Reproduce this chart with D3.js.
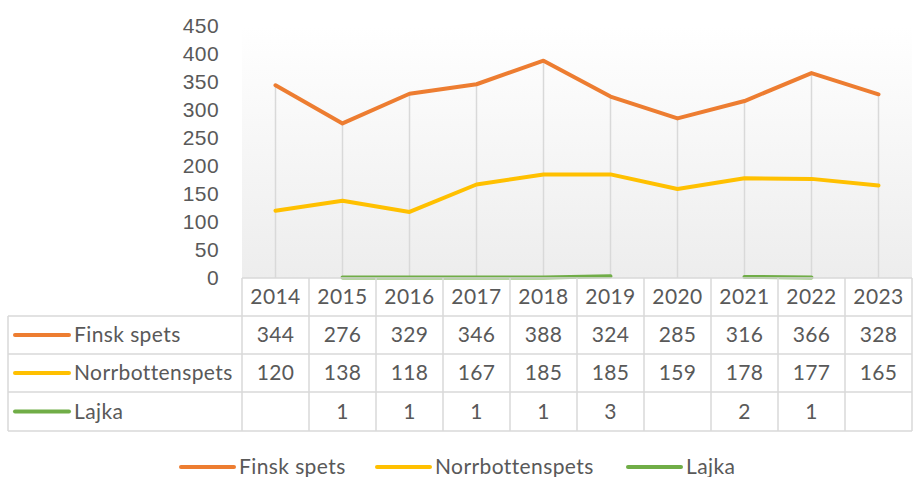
<!DOCTYPE html>
<html>
<head>
<meta charset="utf-8">
<script src="https://cdn.jsdelivr.net/npm/d3@7"></script>
<style>
  body { margin: 0; background: #fff; }
  svg { display: block; font-family: Lato, "Liberation Sans", sans-serif; letter-spacing: 0.4px; }
  text { fill: #595959; }
</style>
</head>
<body>
<svg id="chart"></svg>
<script>
/* ------------------ data ------------------ */

const years = ["2014", "2015", "2016", "2017", "2018", "2019", "2020", "2021", "2022", "2023"];
const finskSpets = [344, 276, 329, 346, 388, 324, 285, 316, 366, 328];
const norrbottenspets = [120, 138, 118, 167, 185, 185, 159, 178, 177, 165];
const lajka = [null, 1, 1, 1, 1, 3, null, 2, 1, null];
const seriesNames = ["Finsk spets", "Norrbottenspets", "Lajka"];
const seriesColors = ["#ED7D31", "#FFC000", "#70AD47"];
const yTicks = [0, 50, 100, 150, 200, 250, 300, 350, 400, 450];

const series = [finskSpets, norrbottenspets, lajka].map((vals, i) => ({
  name: seriesNames[i],
  color: seriesColors[i],
  values: vals
}));

/* ------------------ constants ------------------ */

const WIDTH = 914;
const HEIGHT = 477;
const PLOT = { left: 242, right: 912, top: 26, bottom: 278 };
const TABLE_LEFT = 8;
const ROW_H = [38, 38, 38, 39];
const FONT = 21;
const GRID = "#d9d9d9";

const svg = d3.select("#chart").attr("width", WIDTH).attr("height", HEIGHT);

/* ------------------ scales ------------------ */

const x = d3.scaleBand().domain(years).range([PLOT.left, PLOT.right]);
const y = d3.scaleLinear().domain([0, 450]).range([PLOT.bottom, PLOT.top]);

/* ------------------ plot background ------------------ */

const grad = svg.append("defs").append("linearGradient")
  .attr("id", "bg").attr("x1", 0).attr("y1", 0).attr("x2", 0).attr("y2", 1);
grad.append("stop").attr("offset", "0%").attr("stop-color", "#ffffff");
grad.append("stop").attr("offset", "100%").attr("stop-color", "#ededed");

svg.append("rect")
  .attr("x", PLOT.left).attr("y", PLOT.top)
  .attr("width", PLOT.right - PLOT.left).attr("height", PLOT.bottom - PLOT.top)
  .attr("fill", "url(#bg)");

/* ---- drop lines ---- */

svg.append("g").selectAll("line")
  .data(years)
  .join("line")
  .attr("x1", d => x(d) + x.bandwidth() / 2)
  .attr("x2", d => x(d) + x.bandwidth() / 2)
  .attr("y1", (d, i) => y(d3.max(series, s => s.values[i])))
  .attr("y2", y(0))
  .attr("stroke", GRID).attr("stroke-width", 1.5);

/* ---- y axis ---- */

const yAxis = svg.append("g")
  .attr("transform", `translate(${PLOT.left - 23},0)`)
  .call(d3.axisLeft(y).tickValues(yTicks).tickSize(0).tickPadding(0));
yAxis.select(".domain").remove();
yAxis.selectAll("text")
  .attr("font-size", FONT).attr("font-family", null).style("fill", "#595959");

/* ---- lines ---- */

const line = d3.line()
  .defined(d => d.v !== null)
  .x(d => x(d.year) + x.bandwidth() / 2)
  .y(d => y(d.v));

svg.append("g").selectAll("path")
  .data(series)
  .join("path")
  .attr("d", s => line(s.values.map((v, i) => ({ year: years[i], v }))))
  .attr("fill", "none")
  .attr("stroke", s => s.color)
  .attr("stroke-width", 4)
  .attr("stroke-linejoin", "round")
  .attr("stroke-linecap", "round");

/* ------------------ data table ------------------ */

const rowTops = [PLOT.bottom];
ROW_H.forEach(h => rowTops.push(rowTops[rowTops.length - 1] + h));
const table = svg.append("g");

// horizontal lines
table.selectAll("line.h")
  .data(rowTops)
  .join("line")
  .attr("class", "h")
  .attr("x1", (d, i) => (i < 1 ? PLOT.left : TABLE_LEFT))
  .attr("x2", PLOT.right)
  .attr("y1", d => d).attr("y2", d => d)
  .attr("stroke", GRID).attr("stroke-width", 1.5);

// vertical lines
const colEdges = years.map(yr => x(yr)).concat([PLOT.right]);
table.selectAll("line.v")
  .data(colEdges)
  .join("line")
  .attr("class", "v")
  .attr("x1", d => d).attr("x2", d => d)
  .attr("y1", rowTops[0]).attr("y2", rowTops[4])
  .attr("stroke", GRID).attr("stroke-width", 1.5);

table.append("line")
  .attr("x1", TABLE_LEFT).attr("x2", TABLE_LEFT)
  .attr("y1", rowTops[1]).attr("y2", rowTops[4])
  .attr("stroke", GRID).attr("stroke-width", 1.5);

// header
table.selectAll("text.yr")
  .data(years)
  .join("text")
  .attr("class", "yr")
  .attr("x", d => x(d) + x.bandwidth() / 2)
  .attr("y", (rowTops[0] + rowTops[1]) / 2)
  .attr("dy", "0.35em")
  .attr("text-anchor", "middle")
  .attr("font-size", FONT)
  .text(d => d);

// rows
series.forEach((s, r) => {
  const cy = (rowTops[r + 1] + rowTops[r + 2]) / 2;
  table.append("line")
    .attr("x1", 15).attr("x2", 69).attr("y1", cy).attr("y2", cy)
    .attr("stroke", s.color).attr("stroke-width", 4).attr("stroke-linecap", "round");
  table.append("text")
    .attr("x", 74).attr("y", cy).attr("dy", "0.35em")
    .attr("font-size", FONT)
    .text(s.name);
  table.selectAll(null)
    .data(s.values.map((v, i) => ({ year: years[i], v })).filter(d => d.v !== null))
    .join("text")
    .attr("x", d => x(d.year) + x.bandwidth() / 2)
    .attr("y", cy).attr("dy", "0.35em")
    .attr("text-anchor", "middle")
    .attr("font-size", FONT)
    .text(d => d.v);
});

/* ------------------ legend ------------------ */

const legendX = [181, 377, 628];
const legend = svg.append("g").selectAll("g")
  .data(series)
  .join("g")
  .attr("transform", (d, i) => `translate(${legendX[i]},467)`);
legend.append("line")
  .attr("x1", 0).attr("x2", 53)
  .attr("stroke", d => d.color).attr("stroke-width", 4).attr("stroke-linecap", "round");
legend.append("text")
  .attr("x", 58).attr("dy", "0.35em")
  .attr("font-size", FONT)
  .text(d => d.name);
</script>
</body>
</html>
